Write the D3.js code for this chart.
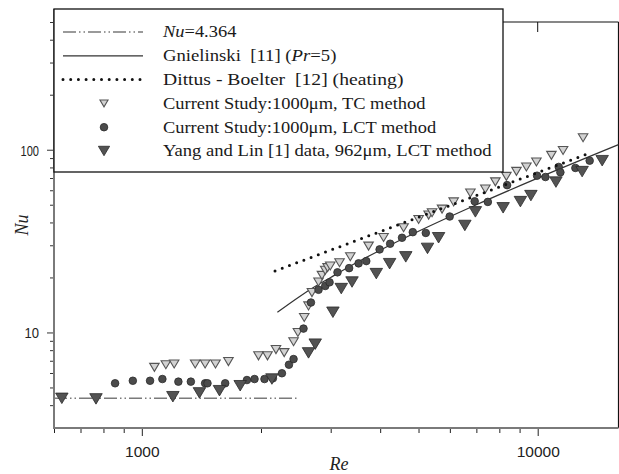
<!DOCTYPE html>
<html>
<head>
<meta charset="utf-8">
<script src="https://cdn.jsdelivr.net/npm/d3@7"></script>
<style>
  html, body { margin: 0; padding: 0; background: #fff; }
  svg { display: block; }
</style>
</head>
<body>
<svg id="chart" width="619" height="474"></svg>
<script>
// ---- Data: Reynolds number (Re) and Nusselt number (Nu) ----
// Current study, 1000 µm channel, thermocouple (TC) method
const tcRe = [1076, 1150, 1207, 1364, 1445, 1535, 1655, 1971, 2077, 2182, 2289, 2417, 2479, 2572, 2637, 2690, 2795, 2851, 2906, 2946, 2992, 3158, 3362, 3739, 4080, 4584, 5003, 5303, 5409, 5733, 6134, 6761, 7375, 7817, 8334, 8837, 9363, 9925, 10830, 11590, 13020];
const tcNu = [6.44, 6.66, 6.72, 6.72, 6.72, 6.72, 6.93, 7.45, 7.45, 8.06, 7.76, 8.89, 10.0, 12.07, 13.97, 16.53, 18.88, 20.54, 21.88, 22.63, 23.09, 24.09, 25.98, 29.69, 33.11, 37.4, 41.5, 43.9, 45.2, 47.3, 51.8, 58.0, 61.0, 66.7, 71.5, 76.1, 80.5, 85.7, 93.1, 99.1, 116.3];

// Current study, 1000 µm channel, liquid crystal thermography (LCT) method
const lctRe = [856, 949, 1049, 1127, 1237, 1330, 1445, 1465, 1624, 1843, 1926, 2041, 2143, 2259, 2353, 2417, 2561, 2674, 2795, 2906, 2980, 3121, 3339, 3528, 3690, 3987, 4239, 4542, 4836, 5216, 5993, 6932, 7483, 8370, 9965, 10460, 11300, 11410, 12450, 13530];
const lctNu = [5.27, 5.44, 5.44, 5.56, 5.38, 5.38, 5.27, 5.27, 5.27, 5.49, 5.56, 5.56, 5.61, 5.98, 6.66, 7.15, 10.5, 14.58, 17.12, 17.96, 18.81, 21.33, 22.49, 23.88, 24.58, 28.47, 30.59, 32.98, 35.39, 35.04, 43.1, 52.2, 51.8, 64.0, 72.1, 70.9, 80.5, 75.2, 79.5, 87.1];

// Yang and Lin [1], 962 µm, LCT method
const yangRe = [628, 766, 1198, 1398, 1571, 1772, 2131, 2637, 2742, 3039, 3190, 3396, 3911, 4226, 4643, 5268, 5619, 6546, 6959, 8178, 9043, 9612, 11120, 12950, 14550];
const yangNu = [4.36, 4.33, 4.45, 4.67, 4.80, 5.11, 5.56, 7.73, 8.63, 12.9, 17.38, 18.88, 20.99, 23.79, 25.92, 28.84, 32.98, 38.5, 45.7, 48.1, 52.0, 56.1, 66.5, 75.9, 87.1];

// Correlation curves
const laminarRe = [600, 2480];
const laminarNu = [4.364, 4.364];
const gnielinskiRe = [2200, 2500, 2700, 3000, 3500, 4000, 5000, 7000, 10000, 16000];
const gnielinskiNu = [12.9, 15.7, 17.5, 20.0, 24.2, 28.2, 35.8, 50.0, 69.9, 106.6];
const dittusRe = [2170, 13330];
const dittusNu = [21.7, 94.7];

// Axis ticks
const reMajorTicks = [1000, 10000];
const reMinorTicks = [600, 700, 800, 900, 2000, 3000, 4000, 5000, 6000, 7000, 8000, 9000];
const nuMajorTicks = [10, 100];
const nuMinorTicks = [4, 5, 6, 7, 8, 9, 20, 30, 40, 50, 60, 70, 80, 90, 200, 300, 400, 500];

// Legend entries
const legendLabels = [
  [{t: "Nu", i: true}, {t: "=4.364"}],
  [{t: "Gnielinski  [11] ("}, {t: "Pr", i: true}, {t: "=5)"}],
  [{t: "Dittus - Boelter  [12] (heating)"}],
  [{t: "Current Study:1000μm, TC method"}],
  [{t: "Current Study:1000μm, LCT method"}],
  [{t: "Yang and Lin [1] data, 962μm, LCT method"}]
];
const legendKinds = ["laminar", "gnielinski", "dittus", "tc", "lct", "yang"];

// ---- Layout ----
const svg = d3.select("#chart");
const plot = {left: 54, right: 618.5, top: 22, bottom: 428};
const x = d3.scaleLog().domain([600, 16000]).range([plot.left, plot.right]);
const y = d3.scaleLog().domain([3, 500]).range([plot.bottom, plot.top]);

const zip = (a, b) => a.map((v, i) => [v, b[i]]);
const serif = "'Liberation Serif', 'Times New Roman', serif";
const sans = "'Liberation Sans', Arial, sans-serif";

// Stretch/squeeze a text element horizontally to a given width, anchored at ax
function fitWidth(sel, width, ax) {
  const w = sel.node().getComputedTextLength();
  const s = width / w;
  sel.attr("transform", `translate(${ax},0) scale(${s},1) translate(${-ax},0)`);
}

// Styles
const style = {
  tc:   {fill: "#d2d2d2", stroke: "#555", w: 9.5, h: 8},
  lct:  {fill: "#4b4b4b", stroke: "#2a2a2a", r: 3.8},
  yang: {fill: "#535353", stroke: "#2a2a2a", w: 12.5, h: 10.5}
};

const triPath = (w, h) => `M${-w/2},${-h/2}L${w/2},${-h/2}L0,${h/2}Z`;

// ---- Frame: top and right borders ----
svg.append("line").attr("x1", plot.left).attr("x2", plot.right).attr("y1", plot.top).attr("y2", plot.top)
  .attr("stroke", "#111").attr("stroke-width", 1.2);
svg.append("line").attr("x1", plot.right).attr("x2", plot.right).attr("y1", plot.top).attr("y2", plot.bottom)
  .attr("stroke", "#111").attr("stroke-width", 1.2);

// Top inner ticks
svg.append("g").selectAll("line").data(reMajorTicks).join("line")
  .attr("x1", d => x(d)).attr("x2", d => x(d))
  .attr("y1", plot.top).attr("y2", plot.top + 10)
  .attr("stroke", "#111").attr("stroke-width", 1);

// ---- Bottom axis ----
const axisColor = "#7a7a7a";
const xMajor = svg.append("g").attr("transform", `translate(0,${plot.bottom})`)
  .call(d3.axisBottom(x).tickValues(reMajorTicks).tickSize(8).tickPadding(14).tickFormat(d3.format("d")));
const xMinor = svg.append("g").attr("transform", `translate(0,${plot.bottom})`)
  .call(d3.axisBottom(x).tickValues(reMinorTicks).tickSize(5).tickFormat(""));
[xMajor, xMinor].forEach(g => {
  g.select(".domain").remove();
  g.selectAll(".tick line").attr("stroke", "#222").attr("stroke-width", 1);
});
xMajor.selectAll(".tick text")
  .attr("font-family", sans).attr("font-size", 15.5).attr("fill", "#222").attr("dy", "0.45em");

// ---- Left axis ----
const yMajor = svg.append("g").attr("transform", `translate(${plot.left},0)`)
  .call(d3.axisLeft(y).tickValues(nuMajorTicks).tickSize(7).tickPadding(8).tickFormat(d3.format("d")));
const yMinor = svg.append("g").attr("transform", `translate(${plot.left},0)`)
  .call(d3.axisLeft(y).tickValues(nuMinorTicks).tickSize(4).tickFormat(""));
[yMajor, yMinor].forEach(g => {
  g.select(".domain").remove();
  g.selectAll(".tick line").attr("stroke", "#333").attr("stroke-width", 1);
});
yMajor.selectAll(".tick text")
  .attr("font-family", sans).attr("font-size", 15).attr("fill", "#222").attr("dy", "0.36em")
  .each(function(d) {
    const t = d3.select(this);
    const right = -15;
    t.attr("x", right).attr("text-anchor", "end");
    fitWidth(t, d === 100 ? 18.5 : 14.5, right);
  });

// Axis lines (grey, heavier)
svg.append("line").attr("x1", plot.left).attr("x2", plot.right).attr("y1", plot.bottom).attr("y2", plot.bottom)
  .attr("stroke", axisColor).attr("stroke-width", 2);
svg.append("line").attr("x1", plot.left).attr("x2", plot.left).attr("y1", 9).attr("y2", plot.bottom + 1)
  .attr("stroke", axisColor).attr("stroke-width", 2);

// Axis titles
svg.append("text").attr("x", 339).attr("y", 470).attr("text-anchor", "middle")
  .attr("font-family", serif).attr("font-style", "italic").attr("font-size", 18).attr("fill", "#222")
  .text("Re");
svg.append("text").attr("transform", "translate(28,225) rotate(-90)").attr("text-anchor", "middle")
  .attr("font-family", serif).attr("font-style", "italic").attr("font-size", 18).attr("fill", "#222")
  .text("Nu");

// ---- Correlation lines ----
const line = d3.line().x(d => x(d[0])).y(d => y(d[1]));

const lineStyles = {
  laminar:    {stroke: "#7a7a7a", width: 1.3, dash: "13 3 1.5 3 1.5 3", cap: "butt"},
  gnielinski: {stroke: "#333", width: 1.2, dash: null, cap: "butt"},
  dittus:     {stroke: "#111", width: 3, dash: "0 7.7", cap: "round"}
};

function styleLine(sel, s) {
  sel.attr("fill", "none").attr("stroke", s.stroke).attr("stroke-width", s.width)
    .attr("stroke-linecap", s.cap);
  if (s.dash) sel.attr("stroke-dasharray", s.dash);
  return sel;
}

styleLine(svg.append("path").datum(zip(laminarRe, laminarNu)).attr("d", line), lineStyles.laminar);
styleLine(svg.append("path").datum(zip(gnielinskiRe, gnielinskiNu))
  .attr("d", line.curve(d3.curveMonotoneX)), lineStyles.gnielinski);
line.curve(d3.curveLinear);

// ---- Data markers ----
svg.append("g").selectAll("path").data(zip(tcRe, tcNu)).join("path")
  .attr("d", triPath(style.tc.w, style.tc.h))
  .attr("transform", d => `translate(${x(d[0])},${y(d[1])})`)
  .attr("fill", style.tc.fill).attr("stroke", style.tc.stroke).attr("stroke-width", 1.1);

svg.append("g").selectAll("circle").data(zip(lctRe, lctNu)).join("circle")
  .attr("cx", d => x(d[0])).attr("cy", d => y(d[1])).attr("r", style.lct.r)
  .attr("fill", style.lct.fill).attr("stroke", style.lct.stroke).attr("stroke-width", 0.8);

svg.append("g").selectAll("path").data(zip(yangRe, yangNu)).join("path")
  .attr("d", triPath(style.yang.w, style.yang.h))
  .attr("transform", d => `translate(${x(d[0])},${y(d[1])})`)
  .attr("fill", style.yang.fill).attr("stroke", style.yang.stroke).attr("stroke-width", 0.8);

styleLine(svg.append("path").datum(zip(dittusRe, dittusNu)).attr("d", line), lineStyles.dittus);

// ---- Legend ----
const legendBox = {x: 54, y: 9, w: 449, h: 163};
const legendRowY = [32, 55.8, 79.6, 103.4, 127.2, 151];
const legendTextWidths = [73.4, 173.4, 240.7, 262.7, 273.4, 328.7];
const legend = svg.append("g");
legend.append("rect").attr("x", legendBox.x).attr("y", legendBox.y)
  .attr("width", legendBox.w).attr("height", legendBox.h)
  .attr("fill", "#fff").attr("stroke", "#111").attr("stroke-width", 1.3);

legendKinds.forEach((k, i) => {
  const cy = legendRowY[i];
  if (lineStyles[k]) {
    styleLine(legend.append("line").attr("x1", 63).attr("x2", 143).attr("y1", cy).attr("y2", cy), lineStyles[k]);
  } else if (k === "lct") {
    legend.append("circle").attr("cx", 104).attr("cy", cy).attr("r", style.lct.r)
      .attr("fill", style.lct.fill).attr("stroke", style.lct.stroke).attr("stroke-width", 0.8);
  } else {
    const s = style[k];
    legend.append("path").attr("d", triPath(s.w * (k === "tc" ? 0.85 : 0.9), s.h * (k === "tc" ? 0.85 : 0.9)))
      .attr("transform", `translate(104,${cy})`)
      .attr("fill", s.fill).attr("stroke", s.stroke).attr("stroke-width", k === "tc" ? 1.1 : 0.8);
  }
  const t = legend.append("text").attr("x", 163).attr("y", cy + 5.5)
    .attr("font-family", serif).attr("font-size", 17).attr("fill", "#1a1a1a");
  legendLabels[i].forEach(part => {
    const ts = t.append("tspan").text(part.t);
    if (part.i) ts.attr("font-style", "italic");
  });
  t.attr("xml:space", "preserve").style("white-space", "pre");
  fitWidth(t, legendTextWidths[i], 163);
});
</script>
</body>
</html>
